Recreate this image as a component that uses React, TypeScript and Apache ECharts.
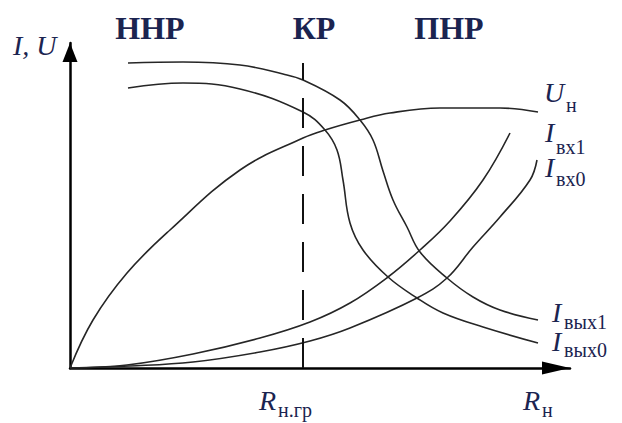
import React, { useEffect, useRef } from "react";
import * as echarts from "echarts";

// Load resistance axis: 0..500, current / voltage axis: 0..325 (relative units)
const X_MAX = 500;
const Y_MAX = 325;

// Boundary (critical) load resistance R_н.гр
const rCrit = 233;
const rCritTop = 305;

// U_н — load voltage
const uLoadX = [0, 23, 57, 100, 170, 233, 255, 290, 320, 370, 430, 468];
const uLoadY = [0, 48, 95, 138, 198, 230, 238, 248, 255, 260, 260, 256];

// I_вых1 — first harmonic of the output current
const iOut1X = [58, 113, 170, 213, 233, 270, 290, 303, 313, 323, 337, 350, 377, 403, 430, 468];
const iOut1Y = [305, 306, 303, 294, 288, 268, 248, 228, 197, 168, 141, 116, 90, 71, 58, 48];

// I_вых0 — DC component of the output current
const iOut0X = [58, 113, 170, 233, 255, 267, 273, 280, 293, 318, 347, 373, 413, 468];
const iOut0Y = [280, 285, 279, 256, 238, 218, 188, 145, 118, 91, 70, 55, 41, 25];

// I_вх1 — first harmonic of the input current
const iIn1X = [0, 57, 123, 190, 240, 280, 318, 350, 380, 413, 440];
const iIn1Y = [0, 3, 14, 30, 46, 65, 91, 118, 147, 188, 235];

// I_вх0 — DC component of the input current
const iIn0X = [0, 60, 123, 190, 240, 280, 347, 377, 403, 430, 460, 467];
const iIn0Y = [0, 2, 6, 16, 27, 40, 70, 90, 121, 151, 188, 208];

// Operating regions along the top
const regionNames = ["ННР", "КР", "ПНР"];

const zip = (xs: number[], ys: number[]) => xs.map((x, i) => [x, ys[i]]);

const CURVE = "#262626";
const INK = "#1b2450";
const SERIF = "'Liberation Serif', 'Times New Roman', serif";

function label(x: number, y: number, text: string, font: string, align = "left", lineHeight = 22) {
  return {
    type: "text",
    silent: true,
    style: {
      x,
      y,
      text,
      font,
      lineHeight,
      fill: INK,
      align,
      verticalAlign: "middle",
      textAlign: align,
      textVerticalAlign: "middle",
    },
  };
}

const MAIN = `italic 28px ${SERIF}`;
const SUB = `20px ${SERIF}`;
const REGION = `bold 32px ${SERIF}`;

export default function App() {
  const ref = useRef<HTMLDivElement>(null);

  useEffect(() => {
    document.body.style.margin = "0";
    const chart = echarts.init(ref.current!, null, { renderer: "svg" });

    const curve = (name: string, xs: number[], ys: number[], extra: any = {}) => ({
      name,
      type: "line",
      data: zip(xs, ys),
      smooth: 0.4,
      showSymbol: false,
      symbol: "none",
      silent: true,
      lineStyle: { color: CURVE, width: 1.6 },
      ...extra,
    });

    chart.setOption({
      animation: false,
      backgroundColor: "#ffffff",
      grid: { left: 70, top: 43, width: 500, height: 325 },
      xAxis: {
        type: "value",
        min: 0,
        max: X_MAX,
        axisLine: {
          show: true,
          onZero: false,
          symbol: ["none", "triangle"],
          symbolSize: [13, 28],
          symbolOffset: [0, -14],
          lineStyle: { color: "#000", width: 2.5 },
        },
        axisTick: { show: false },
        axisLabel: { show: false },
        splitLine: { show: false },
      },
      yAxis: {
        type: "value",
        min: 0,
        max: Y_MAX,
        axisLine: {
          show: true,
          onZero: false,
          symbol: ["none", "triangle"],
          symbolSize: [15, 19],
          symbolOffset: [0, -9.5],
          lineStyle: { color: "#000", width: 2.5 },
        },
        axisTick: { show: false },
        axisLabel: { show: false },
        splitLine: { show: false },
      },
      series: [
        curve("U_н", uLoadX, uLoadY, {
          markLine: {
            silent: true,
            symbol: "none",
            label: { show: false },
            lineStyle: { color: "#111", width: 2, type: [30, 18] },
            data: [[{ coord: [rCrit, 0] }, { coord: [rCrit, rCritTop] }]],
          },
        }),
        curve("I_вых1", iOut1X, iOut1Y),
        curve("I_вых0", iOut0X, iOut0Y),
        curve("I_вх1", iIn1X, iIn1Y),
        curve("I_вх0", iIn0X, iIn0Y),
      ],
      graphic: [
        label(150, 28, regionNames[0], REGION, "center", 26),
        label(314, 28, regionNames[1], REGION, "center", 26),
        label(449, 28, regionNames[2], REGION, "center", 26),
        label(13, 45, "I, U", MAIN),
        label(544, 92, "U", MAIN),
        label(566, 105, "н", SUB, "left", 16),
        label(545, 132, "I", MAIN),
        label(556, 147, "вх1", SUB, "left", 16),
        label(545, 167, "I", MAIN),
        label(556, 179, "вх0", SUB, "left", 16),
        label(552, 312, "I", MAIN),
        label(564, 322, "вых1", SUB, "left", 16),
        label(552, 341, "I", MAIN),
        label(564, 350, "вых0", SUB, "left", 16),
        label(259, 400, "R", MAIN),
        label(278, 410, "н.гр", SUB, "left", 16),
        label(523, 400, "R", MAIN),
        label(542, 410, "н", SUB, "left", 16),
      ],
    });

    return () => chart.dispose();
  }, []);

  return (
    <div
      ref={ref}
      style={{ position: "fixed", left: 0, top: 0, width: 622, height: 423, background: "#fff" }}
    />
  );
}
